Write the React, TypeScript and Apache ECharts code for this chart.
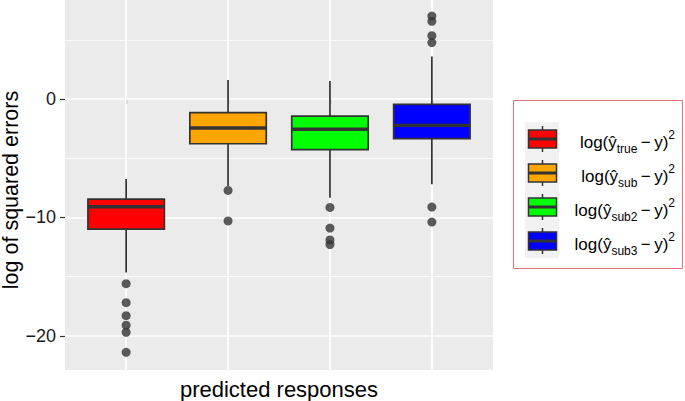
import React, { useEffect, useRef } from 'react';
import * as echarts from 'echarts';

const categories = ['true', 'sub', 'sub2', 'sub3'];
const boxColors = ['#FF0000', '#FFA500', '#00FF00', '#0000FF'];
// [lower whisker, Q1, median, Q3, upper whisker]
const boxStats = [
  [-14.65, -10.99, -9.1, -8.45, -6.76],
  [-7.35, -3.78, -2.45, -1.16, 1.6],
  [-8.34, -4.28, -2.56, -1.44, 1.52],
  [-7.21, -3.35, -2.23, -0.45, 3.58],
];
const outliers = [
  [-15.6, -17.2, -18.3, -19.1, -19.7, -21.4],
  [-7.72, -10.3],
  [-9.16, -10.9, -11.9, -12.3],
  [-9.13, -10.4, 4.76, 5.35, 6.56, 7.0],
];
const yMajor = [-20, -10, 0];
const yMinor = [-15, -5, 5];
const yMin = -22.89;
const yMax = 8.36;

const FONT = '"Liberation Sans", Arial, Helvetica, sans-serif';
const W = 685;
const H = 401;
const PANEL = { left: 65, right: 192, top: 0, bottom: 31 };

export default function App() {
  const ref = useRef<HTMLDivElement>(null);
  useEffect(() => {
    if (!ref.current) return;
    const chart = echarts.init(ref.current, null, { renderer: 'svg' });
    const panelW = W - PANEL.left - PANEL.right;
    const band = panelW / (categories.length + 0.2);
    const inset = 0.1 * band;

    const legendItems: any[] = [];
    const keyTop = 122;
    const keyH = 34;
    categories.forEach((c, i) => {
      const cy = keyTop + keyH * i + keyH / 2;
      legendItems.push(
        { type: 'line', shape: { x1: 542.5, y1: cy - 13, x2: 542.5, y2: cy + 13 }, style: { stroke: '#333', lineWidth: 1.5 } },
        { type: 'rect', shape: { x: 528.5, y: cy - 9, width: 28, height: 18 }, style: { fill: boxColors[i], stroke: '#333', lineWidth: 1.5 } },
        { type: 'line', shape: { x1: 528.5, y1: cy, x2: 556.5, y2: cy }, style: { stroke: '#333', lineWidth: 3 } },
        {
          type: 'text',
          x: 675,
          y: cy + 3,
          style: {
            text: `{m|log(ŷ}{s|${c}}{m|\u2009−\u2009y)}{p|2}`,
            align: 'right',
            verticalAlign: 'middle',
            rich: {
              m: { fontSize: 17, fontFamily: FONT, fill: '#000', lineHeight: 26 },
              s: { fontSize: 12, fontFamily: FONT, fill: '#000', lineHeight: 16, verticalAlign: 'bottom' },
              p: { fontSize: 12, fontFamily: FONT, fill: '#000', lineHeight: 13, verticalAlign: 'top' },
            },
          },
        }
      );
    });

    const option: any = {
      animation: false,
      backgroundColor: '#fff',
      textStyle: { fontFamily: FONT },
      grid: [
        { ...PANEL, show: true, backgroundColor: '#EBEBEB', borderWidth: 0, containLabel: false, outerBoundsMode: 'none' },
        {
          left: PANEL.left + inset,
          right: PANEL.right + inset,
          top: PANEL.top,
          bottom: PANEL.bottom,
          containLabel: false,
          outerBoundsMode: 'none',
        },
      ],
      xAxis: [
        { gridIndex: 0, type: 'value', min: 0, max: 1, show: false },
        {
          gridIndex: 1,
          type: 'category',
          data: categories,
          boundaryGap: true,
          axisLine: { show: false },
          axisTick: { show: true, alignWithLabel: true, length: 5, lineStyle: { color: '#333', width: 1.2 } },
          axisLabel: { show: false },
          splitLine: { show: false },
          name: 'predicted responses',
          nameLocation: 'middle',
          nameGap: 8,
          nameMoveOverlap: false,
          nameTextStyle: { fontSize: 22, lineHeight: 22, color: '#000', fontFamily: FONT, verticalAlign: 'top' },
        },
      ],
      yAxis: [
        {
          gridIndex: 0,
          type: 'value',
          min: yMin,
          max: yMax,
          axisLine: { show: false },
          axisTick: { show: true, customValues: yMajor, length: 5, lineStyle: { color: '#333', width: 1.2 } },
          axisLabel: {
            customValues: yMajor,
            formatter: (v: number) => String(v).replace('-', '−'),
            fontSize: 18,
            color: '#1a1a1a',
            fontFamily: FONT,
            margin: 9,
          },
          splitLine: { show: false },
          name: 'log of squared errors',
          nameLocation: 'middle',
          nameGap: 44,
          nameMoveOverlap: false,
          nameTextStyle: { fontSize: 21.5, lineHeight: 20, color: '#000', fontFamily: FONT, padding: [0, 10, 0, 0] },
        },
        { gridIndex: 1, type: 'value', min: yMin, max: yMax, show: false },
      ],
      series: [
        {
          type: 'line',
          xAxisIndex: 0,
          yAxisIndex: 0,
          data: [],
          z: 1,
          markLine: {
            silent: true,
            z: 1,
            symbol: ['none', 'none'],
            label: { show: false },
            lineStyle: { color: '#FFFFFF', type: 'solid' },
            data: [
              ...yMinor.map((v) => ({ yAxis: v, lineStyle: { width: 0.8, color: '#FFFFFF', type: 'solid' } })),
              ...yMajor.map((v) => ({ yAxis: v, lineStyle: { width: 1.7, color: '#FFFFFF', type: 'solid' } })),
            ],
          },
        },
        {
          type: 'line',
          xAxisIndex: 1,
          yAxisIndex: 1,
          data: [],
          z: 1,
          markLine: {
            silent: true,
            z: 1,
            symbol: ['none', 'none'],
            label: { show: false },
            lineStyle: { color: '#FFFFFF', type: 'solid', width: 1.7 },
            data: categories.map((c) => ({ xAxis: c })),
          },
        },
        {
          type: 'custom',
          xAxisIndex: 1,
          yAxisIndex: 1,
          z: 3,
          encode: { x: 0, y: [1, 2, 3, 4, 5] },
          data: boxStats.map((s, i) => [i, ...s]),
          renderItem: (params: any, api: any) => {
            const x = api.value(0);
            const lo = api.coord([x, api.value(1)]);
            const q1 = api.coord([x, api.value(2)]);
            const med = api.coord([x, api.value(3)]);
            const q3 = api.coord([x, api.value(4)]);
            const hi = api.coord([x, api.value(5)]);
            const bw = api.size([1, 0])[0] * 0.75;
            const cx = q1[0];
            const stroke = '#333333';
            return {
              type: 'group',
              children: [
                { type: 'line', shape: { x1: cx, y1: hi[1], x2: cx, y2: q3[1] }, style: { stroke, lineWidth: 1.7 } },
                { type: 'line', shape: { x1: cx, y1: q1[1], x2: cx, y2: lo[1] }, style: { stroke, lineWidth: 1.7 } },
                {
                  type: 'rect',
                  shape: { x: cx - bw / 2, y: q3[1], width: bw, height: q1[1] - q3[1] },
                  style: { fill: boxColors[params.dataIndex], stroke, lineWidth: 1.7 },
                },
                { type: 'line', shape: { x1: cx - bw / 2, y1: med[1], x2: cx + bw / 2, y2: med[1] }, style: { stroke, lineWidth: 3.4 } },
              ],
            };
          },
        },
        {
          type: 'scatter',
          xAxisIndex: 1,
          yAxisIndex: 1,
          z: 4,
          symbol: 'circle',
          symbolSize: 9,
          itemStyle: { color: '#333333' },
          data: outliers.flatMap((arr, i) => arr.map((v) => [i, v])),
        },
      ],
      graphic: [
        { type: 'rect', shape: { x: 513.5, y: 100.5, width: 169, height: 168 }, style: { fill: '#fff', stroke: '#E57373', lineWidth: 1 } },
        { type: 'rect', shape: { x: 525, y: keyTop, width: 34, height: keyH * 4 }, style: { fill: '#F2F2F2' } },
        ...legendItems,
      ],
    };
    chart.setOption(option);
    return () => chart.dispose();
  }, []);
  return <div ref={ref} style={{ position: 'fixed', left: 0, top: 0, width: W, height: H }} />;
}
